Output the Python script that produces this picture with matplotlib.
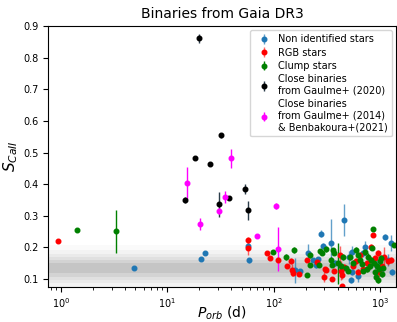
import numpy as np
import matplotlib.pyplot as plt

# non identified stars
p_non = [4.82, 20.8, 22.6, 57.4, 58.5, 158, 179, 210, 233, 250, 260, 281, 290, 350,
         457, 517, 540, 550, 545, 700, 730, 1110, 1270, 1300, 1190, 950, 1000, 620, 380]
s_non = [0.133, 0.164, 0.180, 0.204, 0.159, 0.127, 0.124, 0.180, 0.159, 0.143, 0.161, 0.243, 0.204, 0.214,
         0.286, 0.168, 0.096, 0.185, 0.122, 0.180, 0.201, 0.233, 0.213, 0.122, 0.159, 0.140, 0.125, 0.110, 0.150]
e_non = [0.004, 0.005, 0.005, 0.01, 0.008, 0.04, 0.006, 0.03, 0.006, 0.008, 0.006, 0.01, 0.01, 0.075,
         0.05, 0.02, 0.01, 0.02, 0.01, 0.01, 0.02, 0.01, 0.025, 0.01, 0.02, 0.03, 0.01, 0.02, 0.01]

# RGB stars
p_rgb = [0.94, 58, 58, 86, 93.5, 110, 133, 145, 150, 152, 175, 208, 256, 300, 306, 312, 355, 373,
         423, 430, 440, 440, 460, 560, 600, 650, 700, 760, 820, 870, 900, 960, 1050, 1100, 1200, 1280, 990, 620]
s_rgb = [0.220, 0.222, 0.196, 0.182, 0.166, 0.159, 0.141, 0.156, 0.128, 0.117, 0.115, 0.159, 0.154, 0.106,
         0.130, 0.128, 0.099, 0.125, 0.175, 0.125, 0.077, 0.113, 0.136, 0.140, 0.155, 0.175, 0.130, 0.150,
         0.200, 0.237, 0.165, 0.180, 0.140, 0.170, 0.155, 0.160, 0.120, 0.120]
e_rgb = [0.005, 0.01, 0.02, 0.006, 0.006, 0.01, 0.006, 0.01, 0.02, 0.01, 0.006, 0.006, 0.006, 0.015,
         0.006, 0.006, 0.006, 0.006, 0.03, 0.03, 0.006, 0.015, 0.01, 0.01, 0.01, 0.01, 0.01, 0.01,
         0.01, 0.006, 0.01, 0.01, 0.01, 0.03, 0.01, 0.01, 0.015, 0.01]

# clump stars
p_clump = [1.42, 3.28, 99, 131, 155, 208, 218, 220, 266, 276, 286, 310, 350, 354, 362, 370, 400, 430,
           450, 480, 500, 520, 560, 600, 620, 650, 680, 700, 730, 760, 780, 800, 830, 850, 870, 880,
           900, 920, 940, 960, 980, 1000, 1020, 1050, 1080, 1350]
s_clump = [0.256, 0.250, 0.185, 0.168, 0.190, 0.112, 0.143, 0.176, 0.143, 0.188, 0.182, 0.195, 0.159,
           0.143, 0.190, 0.180, 0.149, 0.140, 0.168, 0.135, 0.125, 0.170, 0.150, 0.190, 0.175, 0.160,
           0.148, 0.125, 0.185, 0.130, 0.170, 0.140, 0.160, 0.196, 0.257, 0.150, 0.120, 0.105, 0.140,
           0.095, 0.130, 0.155, 0.165, 0.115, 0.135, 0.206]
e_clump = [0.005, 0.067, 0.006, 0.01, 0.01, 0.006, 0.006, 0.01, 0.006, 0.006, 0.006, 0.01, 0.01,
           0.006, 0.006, 0.006, 0.065, 0.01, 0.01, 0.006, 0.006, 0.01, 0.01, 0.01, 0.01, 0.01,
           0.006, 0.006, 0.01, 0.01, 0.01, 0.01, 0.01, 0.006, 0.006, 0.01, 0.01, 0.01, 0.01,
           0.01, 0.01, 0.01, 0.01, 0.01, 0.01, 0.006]

# close binaries, Gaulme+ (2020)
p_g20 = [19.8, 31.8, 18.4, 25.1, 14.8, 30.5, 38.4, 53.8, 57.4]
s_g20 = [0.862, 0.555, 0.483, 0.465, 0.349, 0.336, 0.355, 0.384, 0.317]
e_g20 = [0.015, 0.008, 0.005, 0.005, 0.01, 0.04, 0.006, 0.015, 0.03]

# close binaries, Gaulme+ (2014) & Benbakoura+ (2021)
p_g14 = [15.4, 39.7, 20.3, 34.9, 30.7, 105, 69.2, 111]
s_g14 = [0.403, 0.482, 0.273, 0.359, 0.315, 0.331, 0.234, 0.194]
e_g14 = [0.05, 0.03, 0.02, 0.02, 0.01, 0.01, 0.005, 0.07]

plt.rcParams['font.size'] = 7

fig = plt.figure(figsize=(3.97, 3.22), dpi=100)
ax = fig.add_axes([0.121, 0.109, 0.876, 0.809])

# activity level band, darker towards the centre
for hw, a in [(0.075, 0.04), (0.06, 0.05), (0.047, 0.07), (0.036, 0.09), (0.026, 0.13), (0.016, 0.16)]:
    ax.axhspan(0.1325 - hw, 0.1325 + hw, color='gray', alpha=a, lw=0, zorder=0)

kw = dict(fmt='o', ms=3.3, elinewidth=1, capsize=0)
ax.errorbar(p_non, s_non, yerr=e_non, color='#1f77b4', ecolor=(0.12, 0.47, 0.71, 0.7),
            label='Non identified stars', **kw)
ax.errorbar(p_rgb, s_rgb, yerr=e_rgb, color='red', ecolor=(1, 0, 0, 0.6),
            label='RGB stars', **kw)
ax.errorbar(p_clump, s_clump, yerr=e_clump, color='green',
            label='Clump stars', **kw)
ax.errorbar(p_g20, s_g20, yerr=e_g20, color='black', ecolor='#2b3d4a',
            label='Close binaries\nfrom Gaulme+ (2020)', **kw)
ax.errorbar(p_g14, s_g14, yerr=e_g14, color='magenta',
            label='Close binaries\nfrom Gaulme+ (2014)\n& Benbakoura+(2021)', **kw)

ax.set_xscale('log')
ax.set_xlim(0.755, 1413)
ax.set_ylim(0.074, 0.9)
ax.set_yticks(np.arange(0.1, 0.91, 0.1))

ax.set_title('Binaries from Gaia DR3', fontsize=10)
ax.set_ylabel('$S_{CaII}$', fontsize=11, labelpad=2)
ax.set_xlabel('$P_{orb}$ (d)', fontsize=10, labelpad=-4.5)

ax.legend(loc='upper right', fontsize=7, labelspacing=0.35, handletextpad=0.5,
          borderaxespad=0.4, framealpha=0.8)

fig.savefig('out.png', dpi=100)
